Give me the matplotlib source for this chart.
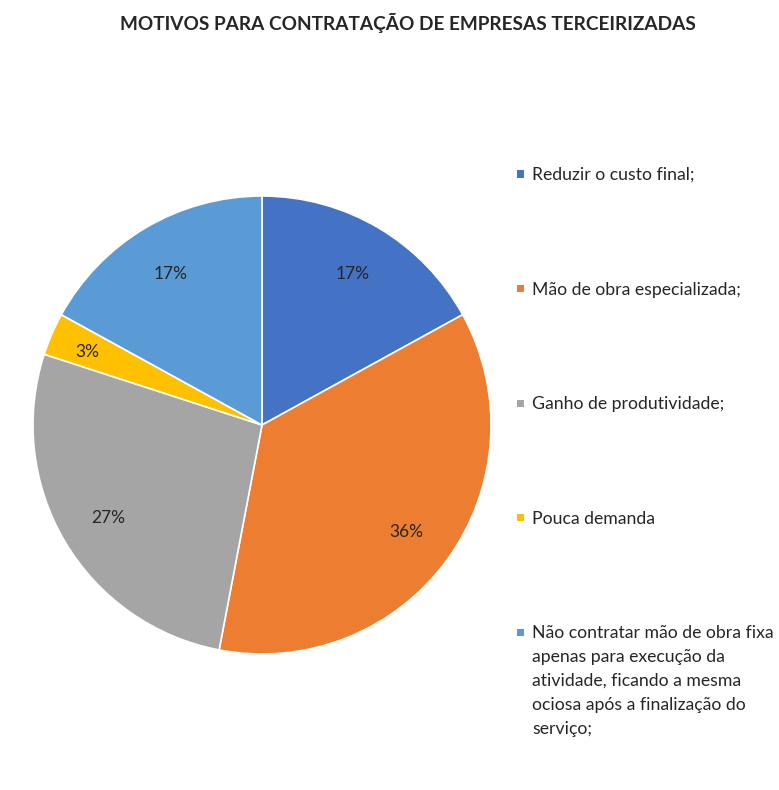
import matplotlib

matplotlib.use("Agg")
import matplotlib.pyplot as plt
import numpy as np
from matplotlib.patches import Rectangle

title = "MOTIVOS PARA CONTRATAÇÃO DE EMPRESAS TERCEIRIZADAS"
categories = [
    "Reduzir o custo final;",
    "Mão de obra especializada;",
    "Ganho de produtividade;",
    "Pouca demanda",
    "Não contratar mão de obra fixa\napenas para execução da\natividade, ficando a mesma\nociosa após a finalização do\nserviço;",
]
shares = [17, 36, 27, 3, 17]
pct_labels = ["17%", "36%", "27%", "3%", "17%"]
colors = ["#4472C4", "#ED7D31", "#A5A5A5", "#FFC000", "#5B9BD5"]

plt.rcParams["font.family"] = ["Lato", "DejaVu Sans"]
text_color = "#262626"

W, H = 779, 790
fig = plt.figure(figsize=(W / 100, H / 100), dpi=100)

# pie centre (262, 425) px, radius 229 px
cx, cy, r = 262, 425, 229
ax = fig.add_axes([(cx - r) / W, (H - cy - r) / H, 2 * r / W, 2 * r / H])
wedges, _ = ax.pie(
    shares,
    colors=colors,
    startangle=90,
    counterclock=False,
    radius=1,
    wedgeprops=dict(edgecolor="white", linewidth=1.2),
)
ax.set_xlim(-1, 1)
ax.set_ylim(-1, 1)
ax.set_aspect("equal")
ax.axis("off")

total = sum(shares)
start = 90.0
for w, lab in zip(shares, pct_labels):
    mid = np.deg2rad(start - w / total * 360 / 2)
    dist = 0.78 if w > 5 else 0.83
    ax.text(dist * np.cos(mid), dist * np.sin(mid) - 0.01, lab, ha="center",
            va="center", fontsize=12.5, color=text_color)
    start -= w / total * 360

fig.text(408 / W, 1 - 23 / H, title, ha="center", va="center",
         fontsize=13.7, fontweight="bold", color=text_color)

# legend entries laid out by hand to follow the original spacing
y0, step = 174, 114.5
for i, (lab, col) in enumerate(zip(categories, colors)):
    y = y0 + i * step
    fig.patches.append(Rectangle((517 / W, 1 - (y + 3.5) / H), 7 / W, 7 / H,
                                 transform=fig.transFigure, facecolor=col,
                                 edgecolor="none"))
    fig.text(532 / W, 1 - (y - 7) / H, lab, ha="left", va="top",
             fontsize=12.7, color=text_color, linespacing=1.62)

fig.savefig("out.png", dpi=100)
